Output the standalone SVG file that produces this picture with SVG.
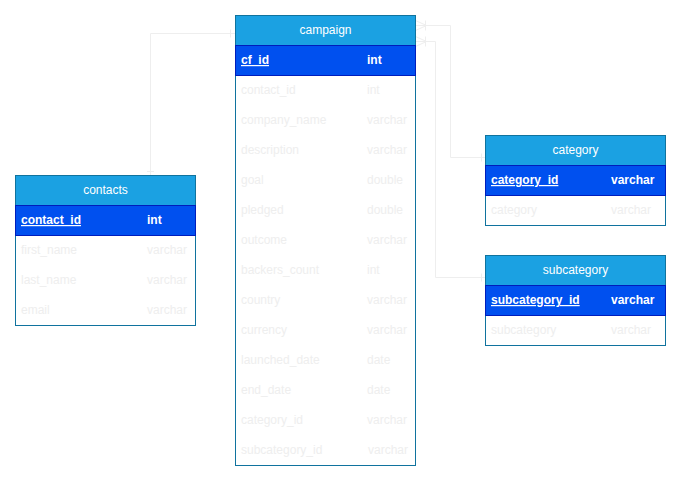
<svg xmlns="http://www.w3.org/2000/svg" width="681" height="481" viewBox="0 0 681 481">
<style>
text{font-family:"Liberation Sans",Arial,sans-serif;font-size:12px}
.hd{fill:#1BA1E2;stroke:#10739E}
.pk{fill:#0050EF;stroke:#001DBC}
.body{fill:#FFFFFF;stroke:#10739E}
.ht{fill:#FFFFFF;text-anchor:middle}
.pkt{fill:#FFFFFF;font-weight:bold}
.pkn{fill:#FFFFFF;font-weight:bold;text-decoration:underline}
.ft{fill:#EEEEEE}
.ln{fill:none;stroke:#EEEEEE;stroke-width:1}
</style>
<rect width="681" height="481" fill="#FFFFFF"/>
<g id="connectors">
<path class="ln" d="M150.5 175.5 V33.5 H235.5"/>
<path class="ln" d="M147 171.5 H154"/>
<path class="ln" d="M230.5 29.5 V37.5"/>
<path class="ln" d="M415.5 25.5 H450.5 V157.5 H485.5"/>
<path class="ln" d="M415.5 20.5 L426.5 25.5 L415.5 30.5 M425.5 20.5 V30.5"/>
<path class="ln" d="M481.5 153.5 V161.5"/>
<path class="ln" d="M415.5 41.5 H435.5 V277.5 H485.5"/>
<path class="ln" d="M415.5 36.5 L426.5 41.5 L415.5 46.5 M425.5 36.5 V46.5"/>
<path class="ln" d="M481.5 273.5 V281.5"/>
</g>
<g id="campaign">
<rect class="body" x="235.5" y="15.5" width="180" height="450"/>
<rect class="hd" x="235.5" y="15.5" width="180" height="30"/>
<text class="ht" x="325.5" y="34">campaign</text>
<rect class="pk" x="235.5" y="45.5" width="180" height="30"/>
<text class="pkn" x="241" y="64">cf_id</text><text class="pkt" x="367" y="64">int</text>
<text class="ft" x="241" y="94">contact_id</text><text class="ft" x="367" y="94">int</text>
<text class="ft" x="241" y="124">company_name</text><text class="ft" x="367" y="124">varchar</text>
<text class="ft" x="241" y="154">description</text><text class="ft" x="367" y="154">varchar</text>
<text class="ft" x="241" y="184">goal</text><text class="ft" x="367" y="184">double</text>
<text class="ft" x="241" y="214">pledged</text><text class="ft" x="367" y="214">double</text>
<text class="ft" x="241" y="244">outcome</text><text class="ft" x="367" y="244">varchar</text>
<text class="ft" x="241" y="274">backers_count</text><text class="ft" x="367" y="274">int</text>
<text class="ft" x="241" y="304">country</text><text class="ft" x="367" y="304">varchar</text>
<text class="ft" x="241" y="334">currency</text><text class="ft" x="367" y="334">varchar</text>
<text class="ft" x="241" y="364">launched_date</text><text class="ft" x="367" y="364">date</text>
<text class="ft" x="241" y="394">end_date</text><text class="ft" x="367" y="394">date</text>
<text class="ft" x="241" y="424">category_id</text><text class="ft" x="367" y="424">varchar</text>
<text class="ft" x="241" y="454">subcategory_id</text><text class="ft" x="368" y="454">varchar</text>
</g>
<g id="contacts">
<rect class="body" x="15.5" y="175.5" width="180" height="150"/>
<rect class="hd" x="15.5" y="175.5" width="180" height="30"/>
<text class="ht" x="105.5" y="194">contacts</text>
<rect class="pk" x="15.5" y="205.5" width="180" height="30"/>
<text class="pkn" x="21" y="224">contact_id</text><text class="pkt" x="147" y="224">int</text>
<text class="ft" x="21" y="254">first_name</text><text class="ft" x="147" y="254">varchar</text>
<text class="ft" x="21" y="284">last_name</text><text class="ft" x="147" y="284">varchar</text>
<text class="ft" x="21" y="314">email</text><text class="ft" x="147" y="314">varchar</text>
</g>
<g id="category">
<rect class="body" x="485.5" y="135.5" width="180" height="90"/>
<rect class="hd" x="485.5" y="135.5" width="180" height="30"/>
<text class="ht" x="575.5" y="154">category</text>
<rect class="pk" x="485.5" y="165.5" width="180" height="30"/>
<text class="pkn" x="491" y="184">category_id</text><text class="pkt" x="611" y="184">varchar</text>
<text class="ft" x="491" y="214">category</text><text class="ft" x="611" y="214">varchar</text>
</g>
<g id="subcategory">
<rect class="body" x="485.5" y="255.5" width="180" height="90"/>
<rect class="hd" x="485.5" y="255.5" width="180" height="30"/>
<text class="ht" x="575.5" y="274">subcategory</text>
<rect class="pk" x="485.5" y="285.5" width="180" height="30"/>
<text class="pkn" x="491" y="304">subcategory_id</text><text class="pkt" x="611" y="304">varchar</text>
<text class="ft" x="491" y="334">subcategory</text><text class="ft" x="611" y="334">varchar</text>
</g>
</svg>
